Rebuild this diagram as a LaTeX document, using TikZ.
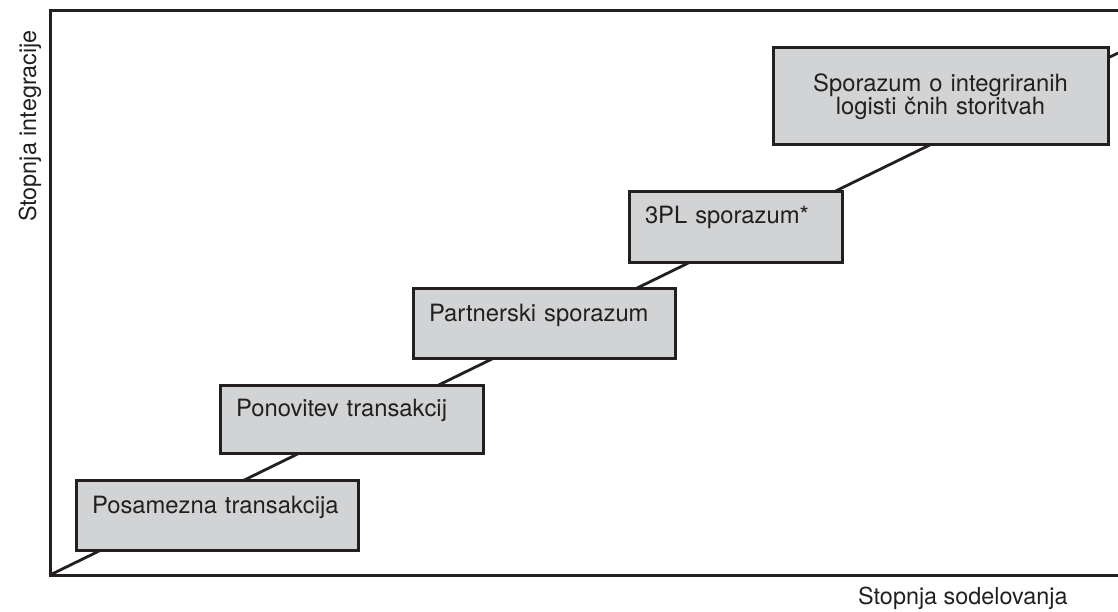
\documentclass[tikz,border=0pt]{standalone}
\usepackage{fontspec}
\setmainfont{TeX Gyre Heros}
\definecolor{boxgray}{HTML}{D1D3D4}
\definecolor{ink}{HTML}{231F20}
\tikzset{
  stage/.style={draw=ink, fill=boxgray, line width=3pt, anchor=north west,
    inner xsep=16pt, inner ysep=0pt, text height=33pt, text depth=37pt,
    align=left, text=ink, font=\fontsize{23.8}{23.5}\selectfont},
  axislabel/.style={text=ink, inner sep=0pt, font=\fontsize{23.4}{24}\selectfont}
}
\begin{document}
\begin{tikzpicture}[x=1pt,y=-1pt]
  \useasboundingbox (0,0) rectangle (1118,612);
  \coordinate (o) at (50,575);
  \coordinate (tl) at (50,11);
  \coordinate (tr) at (1118,11);
  \coordinate (br) at (1118,575);
  \coordinate (e) at (1118,53);
  \draw[ink, line width=3pt] (tr) -- (tl) -- (o) -- (br);
  \draw[ink, line width=2.8pt] (o) -- (e);
  \node[stage, text width=250pt] (single) at (74.5,478.5) {Posamezna transakcija};
  \node[stage, text width=231pt, text height=31.5pt] (repeat) at (218.5,383.5) {Ponovitev transakcij};
  \node[stage, text width=230pt] (partner) at (411.5,286.5) {Partnerski sporazum};
  \node[stage, text width=181pt, text height=31.5pt, text depth=38.5pt] (tpl) at (627.5,190.5) {3PL sporazum*};
  \node[stage, text width=303pt, align=center, text height=43.5pt, text depth=53.5pt] (integ) at (771.5,46.5) {Sporazum o integriranih\\logisti čnih storitvah};
  \node[axislabel, anchor=base west] (xlab) at (858,604) {Stopnja sodelovanja};
  \node[axislabel, rotate=90, anchor=base] (ylab) at (36,126) {Stopnja integracije};
\end{tikzpicture}
\end{document}
